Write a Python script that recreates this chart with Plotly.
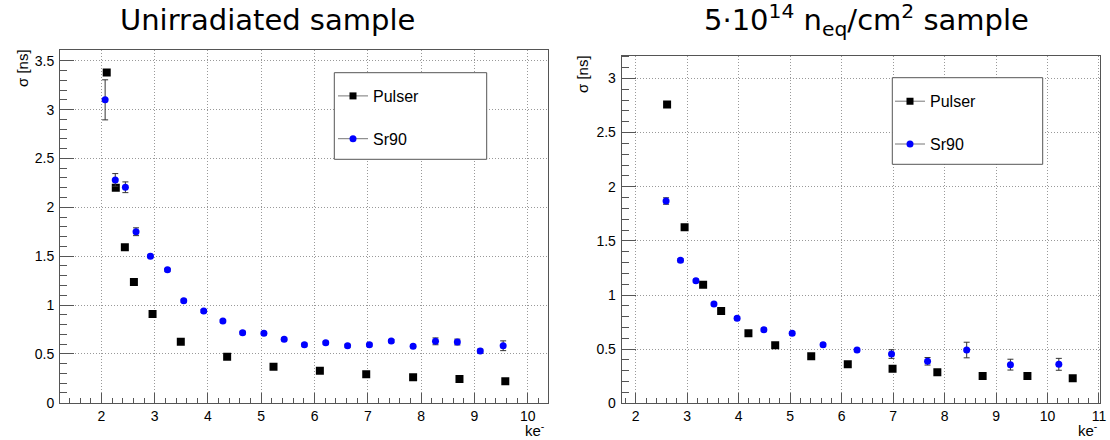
import plotly.graph_objects as go

W, H = 1110, 440

# ---------------- data ----------------
# Unirradiated sample
left_pulser_x = [2.10, 2.27, 2.44, 2.61, 2.96, 3.49, 4.36, 5.23, 6.10, 6.97, 7.85, 8.72, 9.58]
left_pulser_y = [3.38, 2.20, 1.59, 1.235, 0.908, 0.624, 0.471, 0.368, 0.328, 0.291, 0.260, 0.243, 0.219]

left_sr90_x = [2.07, 2.26, 2.45, 2.65, 2.92, 3.24, 3.545, 3.92, 4.28, 4.65, 5.05, 5.43,
               5.81, 6.21, 6.62, 7.03, 7.44, 7.85, 8.27, 8.68, 9.11, 9.54]
left_sr90_y = [3.10, 2.28, 2.205, 1.75, 1.50, 1.36, 1.044, 0.939, 0.836, 0.717, 0.710, 0.649,
               0.594, 0.614, 0.583, 0.594, 0.632, 0.577, 0.628, 0.621, 0.529, 0.583]
left_sr90_err = [0.205, 0.065, 0.055, 0.04, 0.015, 0.015, 0.015, 0.015, 0.015, 0.015, 0.015, 0.015,
                 0.015, 0.015, 0.015, 0.015, 0.015, 0.015, 0.035, 0.03, 0.02, 0.05]

# 5e14 neq/cm2 sample
right_pulser_x = [2.61, 2.95, 3.31, 3.66, 4.19, 4.71, 5.41, 6.12, 6.99, 7.86, 8.74, 9.61, 10.49]
right_pulser_y = [2.76, 1.625, 1.095, 0.852, 0.648, 0.535, 0.434, 0.360, 0.319, 0.286, 0.252, 0.252, 0.231]

right_sr90_x = [2.59, 2.87, 3.17, 3.52, 3.97, 4.49, 5.04, 5.64, 6.30, 6.97, 7.67, 8.43, 9.28, 10.22]
right_sr90_y = [1.868, 1.32, 1.132, 0.917, 0.785, 0.680, 0.646, 0.541, 0.492, 0.455, 0.388, 0.492, 0.357, 0.360]
right_sr90_err = [0.03, 0.015, 0.015, 0.015, 0.015, 0.015, 0.015, 0.015, 0.015, 0.04, 0.035, 0.072, 0.05, 0.055]

left_title = "Unirradiated sample"
right_title = "5·10<sup>14</sup> n<sub>eq</sub>/cm<sup>2</sup> sample"
y_title = "σ [ns]"
x_title = "ke<sup>-</sup>"
series_names = ["Pulser", "Sr90"]

# ---------------- style ----------------
TICK_FONT = dict(family="Liberation Sans, Arial, sans-serif", size=14, color="black")
BLUE = "#0000ff"
FRAME = "#555555"
GRID = "#999999"
ERR = "#333333"

fig = go.Figure()


def add_panel(xa, ya, px, py, sx, sy, serr, legend):
    fig.add_trace(go.Scatter(
        x=px, y=py, mode="markers", xaxis=xa, yaxis=ya, showlegend=False,
        marker=dict(symbol="square", size=8, color="black"), hoverinfo="x+y"))
    fig.add_trace(go.Scatter(
        x=sx, y=sy, mode="markers", xaxis=xa, yaxis=ya, showlegend=False,
        marker=dict(symbol="circle", size=7, color=BLUE),
        error_y=dict(type="data", array=serr, visible=True, thickness=1, width=3, color=ERR)))
    # legend entries
    fig.add_trace(go.Scatter(
        x=[None], y=[None], mode="lines+markers", name=series_names[0], xaxis=xa, yaxis=ya,
        legend=legend, legendgroup=legend + "a",
        line=dict(color="#777777", width=1), marker=dict(symbol="square", size=7, color="black")))
    fig.add_trace(go.Scatter(
        x=[None], y=[None], mode="lines+markers", name=series_names[1], xaxis=xa, yaxis=ya,
        legend=legend, legendgroup=legend + "b",
        line=dict(color="#777777", width=1), marker=dict(symbol="circle", size=7, color=BLUE)))


add_panel("x", "y", left_pulser_x, left_pulser_y, left_sr90_x, left_sr90_y, left_sr90_err, "legend")
add_panel("x2", "y2", right_pulser_x, right_pulser_y, right_sr90_x, right_sr90_y, right_sr90_err, "legend2")


def xaxis(domain, rng):
    return dict(domain=domain, range=rng, dtick=1, tick0=0, ticks="inside", ticklen=10,
                tickcolor=FRAME, showline=True, linecolor=FRAME, linewidth=1, mirror=True,
                showgrid=True, gridcolor=GRID, griddash="1px,2px", gridwidth=1, zeroline=False,
                tickfont=TICK_FONT, automargin=False,
                minor=dict(dtick=0.2, ticks="inside", ticklen=5, tickcolor=FRAME, showgrid=False))


def yaxis(domain, rng, anchor):
    return dict(domain=domain, range=rng, dtick=0.5, tick0=0, ticks="inside", ticklen=14,
                tickcolor=FRAME, showline=True, linecolor=FRAME, linewidth=1, mirror=True,
                showgrid=True, gridcolor=GRID, griddash="1px,2px", gridwidth=1, zeroline=False,
                tickfont=TICK_FONT, anchor=anchor, ticklabelstandoff=2, automargin=False,
                minor=dict(dtick=0.1, ticks="inside", ticklen=7, tickcolor=FRAME, showgrid=False))


def px2x(p):
    return p / W


def px2y(p):
    return 1 - p / H


LEG_FONT = dict(family="Liberation Sans, Arial, sans-serif", size=16, color="black")

fig.update_layout(
    width=W, height=H, margin=dict(l=0, r=0, t=0, b=0, pad=0, autoexpand=False),
    paper_bgcolor="white", plot_bgcolor="white",
    xaxis=xaxis([px2x(60), px2x(548.3)], [1.223, 10.387]) | dict(anchor="y"),
    yaxis=yaxis([px2y(402.7), px2y(50)], [0, 3.61], "x"),
    xaxis2=xaxis([px2x(621.7), px2x(1100)], [1.728, 11.02]) | dict(anchor="y2"),
    yaxis2=yaxis([px2y(403.3), px2y(55.7)], [0, 3.21], "x2"),
    legend=dict(x=px2x(333), xanchor="left", y=px2y(79), yanchor="top",
                bgcolor="rgba(0,0,0,0)", borderwidth=0, tracegroupgap=19, font=LEG_FONT),
    legend2=dict(x=px2x(890), xanchor="left", y=px2y(84.3), yanchor="top",
                 bgcolor="rgba(0,0,0,0)", borderwidth=0, tracegroupgap=19, font=LEG_FONT),
)

# legend boxes
for (x0, y0, x1, y1) in [(334.3, 72.7, 486.7, 159.3), (892.3, 77.7, 1042.7, 164.3)]:
    fig.add_shape(type="rect", xref="paper", yref="paper",
                  x0=px2x(x0), x1=px2x(x1), y0=px2y(y1), y1=px2y(y0),
                  line=dict(color=FRAME, width=1), fillcolor="white", layer="above")

TITLE_FONT = dict(family="DejaVu Sans, sans-serif", size=29, color="black")
AX_FONT = dict(family="Liberation Sans, Arial, sans-serif", size=15, color="black")

annotations = [
    dict(text=left_title, x=px2x(267.7), y=px2y(20), xanchor="center", yanchor="middle", font=TITLE_FONT),
    dict(text=right_title, x=px2x(866.7), y=px2y(20), xanchor="center", yanchor="middle", font=TITLE_FONT),
    dict(text=y_title, x=px2x(22), y=px2y(47), xanchor="center", yanchor="top", textangle=-90, font=AX_FONT),
    dict(text=y_title, x=px2x(582), y=px2y(53), xanchor="center", yanchor="top", textangle=-90, font=AX_FONT),
    dict(text=x_title, x=px2x(547), y=px2y(429), xanchor="right", yanchor="middle", font=AX_FONT),
    dict(text=x_title, x=px2x(1100), y=px2y(429), xanchor="right", yanchor="middle", font=AX_FONT),
]
for a in annotations:
    fig.add_annotation(xref="paper", yref="paper", showarrow=False, **a)

fig.write_html("out.html", config={"displayModeBar": False},
               post_script="document.body.style.margin='0';document.body.style.overflow='hidden';")
